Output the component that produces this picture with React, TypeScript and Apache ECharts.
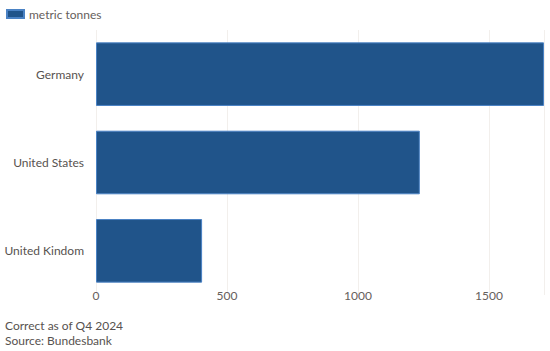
import React, { useEffect, useRef } from "react";
import * as echarts from "echarts";

const categories = ["United Kindom", "United States", "Germany"];
const values = [405, 1236, 1710];
const seriesName = "metric tonnes";
const noteLines = ["Correct as of Q4 2024", "Source: Bundesbank"];

export default function App() {
  const ref = useRef<HTMLDivElement>(null);
  useEffect(() => {
    if (!ref.current) return;
    const chart = echarts.init(ref.current, undefined, { renderer: "svg" });
    const font = "Lato, 'Noto Sans', sans-serif";
    chart.setOption({
      animation: false,
      textStyle: { fontFamily: font },
      legend: {
        show: true,
        left: 1,
        top: 3,
        itemWidth: 17,
        itemHeight: 8,
        itemGap: 7,
        icon: "rect",
        textStyle: { fontFamily: font, fontSize: 12, color: "#66605c" },
        data: [seriesName],
      },
      grid: { left: 96, right: 6, top: 30, bottom: 56, containLabel: false },
      xAxis: {
        type: "value",
        min: 0,
        max: "dataMax",
        interval: 500,
        axisLine: { show: false },
        axisTick: { show: false },
        splitLine: { show: true, lineStyle: { color: "#f2efec", width: 1 } },
        axisLabel: {
          color: "#66605c",
          fontSize: 12,
          fontFamily: font,
          margin: -6,
          showMaxLabel: false,
          formatter: (v: number) => String(v),
        },
      },
      yAxis: {
        type: "category",
        data: categories,
        axisLine: { show: false },
        axisTick: { show: false },
        axisLabel: { color: "#57524f", fontSize: 12, fontFamily: font, margin: 12 },
      },
      series: [
        {
          name: seriesName,
          type: "bar",
          data: values,
          barCategoryGap: "28%",
          itemStyle: { color: "#20548a", borderColor: "#4a82c4", borderWidth: 1 },
        },
      ],
      graphic: noteLines.map((t, i) => ({
        type: "text",
        left: 5,
        top: 319 + i * 15,
        style: { text: t, fill: "#57524f", fontSize: 12, fontFamily: font },
      })),
    });
    return () => chart.dispose();
  }, []);
  return (
    <div
      ref={ref}
      style={{ position: "absolute", left: 0, top: 0, width: 550, height: 351 }}
    />
  );
}
